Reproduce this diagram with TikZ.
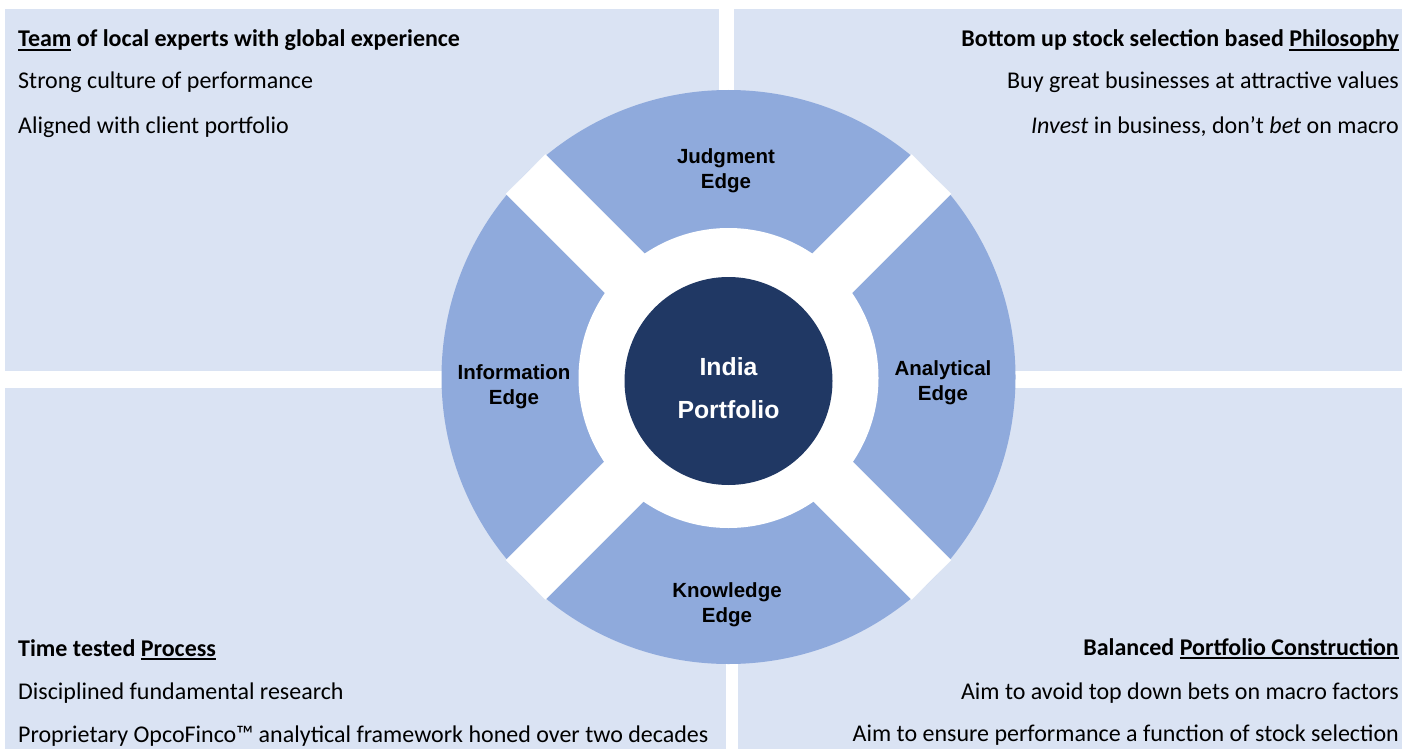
\documentclass[tikz,border=0pt]{standalone}
\usepackage{fontspec}
\setmainfont{Carlito}
\newfontfamily\arialfont{Liberation Sans}
\definecolor{panel}{HTML}{DAE3F3}
\definecolor{seg}{HTML}{8FAADC}
\definecolor{core}{HTML}{203864}
\newcommand\myul[1]{\setbox0\hbox{#1}\rlap{\vrule width\wd0 height -2pt depth 3.6pt}\box0\relax}
\begin{document}
\begin{tikzpicture}[x=1pt,y=-1pt,
  panelbox/.style={fill=panel,draw=none},
  body/.style={font=\fontsize{24}{28}\selectfont, inner sep=0pt, text=black},
  head/.style={font=\fontsize{24}{28}\selectfont\bfseries, inner sep=0pt, text=black},
  edgelabel/.style={font=\arialfont\bfseries\fontsize{20.5}{25}\selectfont, align=center, text=black, inner sep=0pt},
  gapbar/.style={fill=white,draw=none}]
\useasboundingbox (0,0) rectangle (1402,749);
\fill[white] (0,0) rectangle (1402,749);
% panels
\fill[panelbox] (5,9) rectangle (719,371);
\fill[panelbox] (734,9) rectangle (1402,371);
\fill[panelbox] (5,388) rectangle (726,749);
\fill[panelbox] (738,388) rectangle (1402,749);
% wheel
\coordinate (c) at (728.5,377);
\fill[seg] (c) circle (287);
\begin{scope}[shift={(c)}, rotate=45]
  \fill[gapbar] (-287,-28) rectangle (287,28);
  \fill[gapbar] (-28,-287) rectangle (28,287);
\end{scope}
\fill[white] (728.5,378) circle (150);
\node[circle, fill=core, minimum size=208pt, inner sep=0pt] (core) at (728.5,381) {};
\node[text=white, align=center, inner sep=0pt,
      font=\arialfont\bfseries\fontsize{24.8}{43}\selectfont] (corelabel) at (728.5,388) {India\\Portfolio};
% ring labels
\node[edgelabel] (judg) at (726,171) {Judgment\\Edge};
\node[edgelabel] (info) at (514,387) {Information\\Edge};
\node[edgelabel] (anal) at (943,383) {Analytical\\Edge};
\node[edgelabel] (know) at (727,605) {Knowledge\\Edge};
% texts top-left
\node[head, anchor=base west] (tlh) at (18,47) {\myul{Team} of local experts with global experience};
\node[body, anchor=base west] (tl1) at (18,89) {Strong culture of performance};
\node[body, anchor=base west] (tl2) at (18,133) {Aligned with client portfolio};
% top-right
\node[head, anchor=base east] (trh) at (1399,47) {Bottom up stock selection based \myul{Philosophy}};
\node[body, anchor=base east] (tr1) at (1399,89) {Buy great businesses at attractive values};
\node[body, anchor=base east] (tr2) at (1399,133) {\textit{Invest} in business, don’t \textit{bet} on macro};
% bottom-left
\node[head, anchor=base west] (blh) at (18,656) {Time tested \myul{Process}};
\node[body, anchor=base west] (bl1) at (18,699) {Disciplined fundamental research};
\node[body, anchor=base west] (bl2) at (18,742) {Proprietary OpcoFinco™ analytical framework honed over two decades};
% bottom-right
\node[head, anchor=base east] (brh) at (1399,655) {Balanced \myul{Portfolio Construction}};
\node[body, anchor=base east] (br1) at (1399,699) {Aim to avoid top down bets on macro factors};
\node[body, anchor=base east] (br2) at (1399,741) {Aim to ensure performance a function of stock selection};
\end{tikzpicture}
\end{document}
